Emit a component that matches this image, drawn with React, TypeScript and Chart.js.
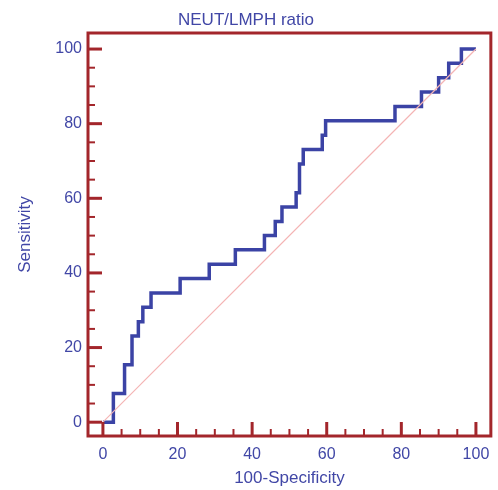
import React, { useEffect, useRef } from 'react';
import { Chart, registerables } from 'chart.js';

Chart.register(...registerables);

// ROC curve: 100-Specificity (x) vs Sensitivity (y), corner points of the step curve
const fpr = [0, 2.8, 5.8, 7.8, 9.5, 10.7, 12.9, 20.7, 28.5, 35.5, 43.3, 46.2, 48.0, 51.8, 52.7, 53.7, 58.8, 59.7, 78.3, 85.4, 90.0, 92.7, 96.1, 100];
const tpr = [0, 7.7, 15.4, 23.1, 26.9, 30.8, 34.6, 38.5, 42.3, 46.2, 50.0, 53.8, 57.7, 61.5, 69.2, 73.1, 76.9, 80.8, 84.6, 88.5, 92.3, 96.2, 100, 100];

// Reference (chance) diagonal
const diagX = [0, 100];
const diagY = [0, 100];

const majorTicks = [0, 20, 40, 60, 80, 100];
const minorStep = 5;

const TITLE = 'NEUT/LMPH ratio';
const X_TITLE = '100-Specificity';
const Y_TITLE = 'Sensitivity';

const BLUE = '#3b43a5';
const TEXT = '#4147a6';
const RED = '#a3262b';
const PINK = '#f4b4b4';
const FONT = 'Arial, "Liberation Sans", sans-serif';

const frameTicks = {
  id: 'frameTicks',
  afterDatasetsDraw(chart: any) {
    const { ctx, chartArea: a, scales } = chart;
    const xs = scales.x;
    const ys = scales.y;
    ctx.save();
    ctx.strokeStyle = RED;
    ctx.lineCap = 'butt';
    for (let v = 0; v <= 100; v += minorStep) {
      const major = majorTicks.includes(v);
      const len = major ? 14 : 7;
      ctx.lineWidth = major ? 3 : 2;
      const px = xs.getPixelForValue(v);
      ctx.beginPath();
      ctx.moveTo(px, a.bottom);
      ctx.lineTo(px, a.bottom - len);
      ctx.stroke();
      const py = ys.getPixelForValue(v);
      ctx.beginPath();
      ctx.moveTo(a.left, py);
      ctx.lineTo(a.left + len, py);
      ctx.stroke();
    }
    ctx.lineWidth = 3;
    ctx.strokeRect(a.left, a.top, a.right - a.left, a.bottom - a.top);
    ctx.restore();
  },
};

export default function App() {
  const ref = useRef<HTMLCanvasElement | null>(null);

  useEffect(() => {
    if (!ref.current) return;
    const chart = new Chart(ref.current, {
      type: 'line',
      data: {
        datasets: [
          {
            label: 'Diagonal',
            data: diagX.map((x, i) => ({ x, y: diagY[i] })),
            borderColor: PINK,
            borderWidth: 1.2,
            pointRadius: 0,
            tension: 0,
          },
          {
            label: TITLE,
            data: fpr.map((x, i) => ({ x, y: tpr[i] })),
            borderColor: BLUE,
            borderWidth: 3.5,
            pointRadius: 0,
            stepped: 'before',
            tension: 0,
          },
        ],
      },
      options: {
        animation: false,
        responsive: true,
        maintainAspectRatio: false,
        layout: { padding: { left: 0, right: 6, top: 0, bottom: 0 } },
        plugins: {
          legend: { display: false },
          tooltip: { enabled: false },
          title: {
            display: true,
            text: TITLE,
            color: TEXT,
            font: { family: FONT, size: 17, weight: 'normal' },
            padding: { top: 10, bottom: 2.6 },
          },
        },
        scales: {
          x: {
            type: 'linear',
            min: -4,
            max: 104,
            afterBuildTicks: (s: any) => {
              s.ticks = majorTicks.map((v) => ({ value: v }));
            },
            afterFit: (s: any) => {
              s.height = 54;
            },
            grid: { display: false, drawTicks: false },
            border: { display: false },
            ticks: {
              color: TEXT,
              font: { family: FONT, size: 16 },
              padding: 8.5,
              maxRotation: 0,
              autoSkip: false,
            },
            title: {
              display: true,
              text: X_TITLE,
              color: TEXT,
              font: { family: FONT, size: 17 },
              padding: { top: 0, bottom: 1.5 },
            },
          },
          y: {
            type: 'linear',
            min: -3.7,
            max: 104.3,
            afterBuildTicks: (s: any) => {
              s.ticks = majorTicks.map((v) => ({ value: v }));
            },
            afterFit: (s: any) => {
              s.width = 88;
            },
            grid: { display: false, drawTicks: false },
            border: { display: false },
            ticks: {
              color: TEXT,
              font: { family: FONT, size: 16 },
              padding: 6,
              autoSkip: false,
            },
            title: {
              display: true,
              text: Y_TITLE,
              color: TEXT,
              font: { family: FONT, size: 17 },
              padding: { top: 15, bottom: 0 },
            },
          },
        },
      },
      plugins: [frameTicks],
    } as any);
    return () => chart.destroy();
  }, []);

  return (
    <div style={{ position: 'fixed', left: 0, top: 0, width: 498, height: 490 }}>
      <canvas ref={ref} />
    </div>
  );
}
